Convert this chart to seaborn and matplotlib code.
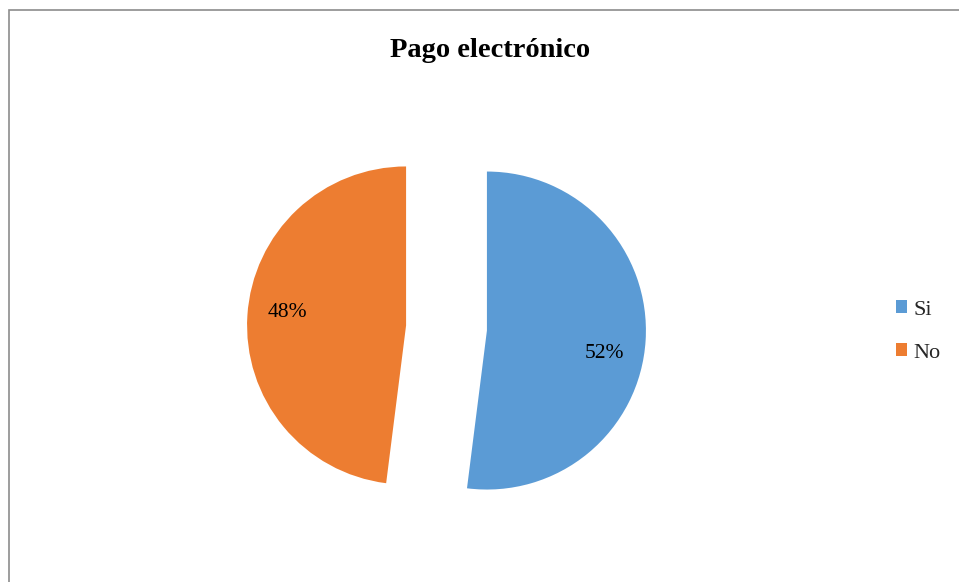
import math
import matplotlib
matplotlib.use("Agg")
import matplotlib.pyplot as plt
from matplotlib.patches import Patch, Rectangle
import seaborn as sns

# Data
categories = ["Si", "No"]
values = [52, 48]
title = "Pago electrónico"

sns.set_theme(style="white")
plt.rcParams['font.family'] = ['Liberation Serif', 'DejaVu Serif']

colors = sns.color_palette(["#5B9BD5", "#ED7D31"])

W, H = 959, 582
fig = plt.figure(figsize=(W / 100, H / 100), dpi=100)
ax = fig.add_axes([0, 0, 1, 1])

cx, cy, r = 446.5, 254.0, 159.0
wedges, texts, autotexts = ax.pie(
    values, colors=colors, startangle=90, counterclock=False,
    center=(cx, cy), radius=r, explode=[40.5, 40.5],
    autopct=lambda p: f"{p:.0f}%", pctdistance=0.75,
    textprops=dict(fontsize=15.5, color="black"),
    wedgeprops=dict(linewidth=0),
)
ax.set_xlim(0, W)
ax.set_ylim(0, H)
ax.set_aspect('equal')
ax.axis('off')

# Nudge percentage labels slightly (best-fit style placement)
for w, t, dang in zip(wedges, autotexts, [-7.5, -2.5]):
    th = 0.5 * (w.theta1 + w.theta2)
    wx, wy = w.center
    d = 0.75 * r
    t.set_position((wx + d * math.cos(math.radians(th + dang)),
                    wy + d * math.sin(math.radians(th + dang))))
    t.set_va('center')
    t.set_ha('center')

# Title
fig.text(490.5 / W, 1 - 56.7 / H, title, ha='center', va='baseline',
         fontsize=20.5, fontweight='bold', color='black')

# Legend
handles = [Patch(facecolor=c, edgecolor='none') for c in colors]
fig.legend(handles, categories, loc='center left',
           bbox_to_anchor=(896 / W, 250.5 / H), frameon=False,
           fontsize=16, handlelength=0.5, handleheight=0.5,
           handletextpad=0.3, labelspacing=1.07, borderpad=0, borderaxespad=0)

# Chart area border (extends beyond right/bottom of image)
ax.add_patch(Rectangle((9, -20), 1000, H - 10 + 20, fill=False,
                       edgecolor='#8c8c8c', linewidth=1.2, clip_on=False))

fig.savefig("out.png", dpi=100)
